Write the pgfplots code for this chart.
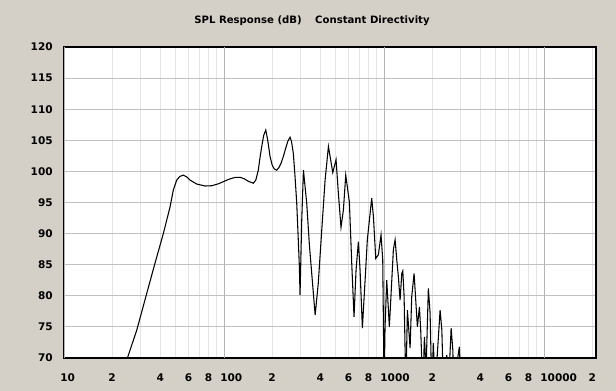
\documentclass[border=0pt]{standalone}
\usepackage{pgfplots}
\pgfplotsset{compat=1.18}
\usepackage{pgfplotstable}
\usepackage{fontspec}
\setmainfont{DejaVu Sans}
\definecolor{bgcol}{RGB}{212,208,200}
\definecolor{hgrid}{RGB}{192,192,192}
\definecolor{dgrid}{RGB}{180,180,180}
\definecolor{mgrid}{RGB}{228,228,228}
\pgfplotstableread{
freq db
22.4 66
24.9 70
28.5 74.5
32.9 80.4
37.0 85.2
41.8 90.05
46.0 94.3
48.2 97.0
50.6 98.6
53.0 99.2
55.7 99.4
58.5 99.1
61.3 98.6
67.5 97.97
76.1 97.65
84 97.7
92 98.0
100 98.4
109 98.8
118 99.05
126 99.05
134 98.8
142 98.4
152.4 98.1
158 98.6
163.7 100.2
168 102.3
172 104.0
177 105.8
182.3 106.65
187 105.2
193.9 102.4
200 101.0
206 100.4
213.3 100.2
220 100.6
227 101.3
234.8 102.4
242 103.6
250 104.8
258.5 105.5
264 104.8
271 102.9
278 99.0
284.6 94.9
291 89.0
295.6 84.7
298.5 80.1
305.9 92.2
313.4 100.2
328.6 94.9
341.4 88.2
356 82.5
371 76.9
388 82.0
408 90.6
428 98.6
449 104.0
478 99.8
501 101.9
518 96.5
538 91.0
557 93.8
576 99.4
607 95.1
628 85.2
649 76.6
668 84.1
691 88.7
708 84.1
732 74.8
761 82.5
786 89.0
837 95.7
858 92.7
887 86.0
921 86.6
957 89.8
981 85.8
1000 65
1014 75.0
1039 82.5
1079 75.0
1143 87.4
1172 89.0
1200 85.8
1228 83.1
1259 79.3
1290 83.6
1309 84.0
1334 79.9
1367 65
1399 77.7
1454 71.6
1489 79.9
1540 83.6
1615 75.0
1663 78.2
1694 74.5
1745 65
1787 73.4
1830 68
1891 81.2
1939 77.2
1986 65
2032 72.4
2084 65
2239 77.7
2296 74.5
2348 65
2466 70.5
2525 65
2624 74.8
2688 71.3
2738 65
2845 69
2955 71.8
3029 65
}\spl
\begin{document}
\begin{tikzpicture}[x=0.75pt,y=0.75pt]
\fill[bgcol] (0,0) rectangle (616,391);
\useasboundingbox (0,0) rectangle (616,391);
\node[font=\bfseries\fontsize{7.6}{9}\selectfont] at (312,370) {SPL Response (dB)\hspace{10pt}Constant Directivity};
\begin{axis}[
  at={(48pt,24.75pt)}, anchor=south west,
  scale only axis, width=399pt, height=233.25pt,
  xmode=log, log basis x=10,
  xmin=10, xmax=21100, ymin=70, ymax=120,
  axis background/.style={fill=white},
  axis line style={black, line width=1pt},
  tick style={draw=none},
  /pgf/number format/assume math mode=true,
  ytick={70,75,...,120},
  xtick={10,20,40,60,80,100,200,400,600,800,1000,2000,4000,6000,8000,10000,20000},
  xticklabels={10,2,4,6,8,100,2,4,6,8,1000,2,4,6,8,10000,2},
  minor xtick={30,50,70,90,300,500,700,900,3000,5000,7000,9000},
  extra x ticks={10,100,1000,10000},
  extra x tick labels={},
  extra x tick style={xmajorgrids=true, major grid style={dgrid, line width=0.75pt}},
  xmajorgrids=true, xminorgrids=true, ymajorgrids=true,
  major grid style={mgrid, line width=0.75pt},
  minor grid style={mgrid, line width=0.75pt},
  y grid style={hgrid, line width=0.75pt},
  tick label style={font=\bfseries\fontsize{7.9}{9}\selectfont, inner sep=0pt},
  x tick label style={anchor=north west, xshift=-3pt, yshift=-11.5pt},
  y tick label style={anchor=east, xshift=-8.25pt},
  clip=true,
]
\addplot[black, line width=0.8pt] table[x=freq, y=db] {\spl};
\end{axis}
\end{tikzpicture}
\end{document}
